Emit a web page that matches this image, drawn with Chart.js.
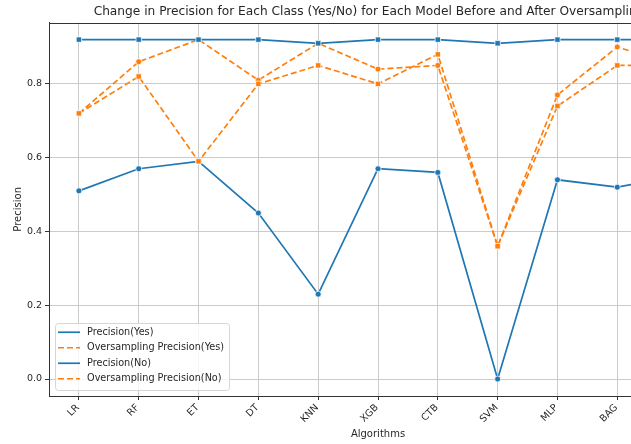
<!DOCTYPE html>
<html>
<head>
<meta charset="utf-8">
<title>Change in Precision</title>
<script src="https://cdn.jsdelivr.net/npm/chart.js@4/dist/chart.umd.min.js"></script>
<style>
  html, body { margin: 0; padding: 0; background: #fff; width: 631px; height: 444px; overflow: hidden; }
  canvas { display: block; }
</style>
</head>
<body>
<canvas id="chart" width="738" height="444"></canvas>
<script>
// Algorithms on the x axis
const categories = ['LR', 'RF', 'ET', 'DT', 'KNN', 'XGB', 'CTB', 'SVM', 'MLP', 'BAG', 'ADA'];

// Precision per class, before and after oversampling
const precisionYes   = [0.51, 0.57, 0.59, 0.45, 0.23, 0.57, 0.56, 0.00, 0.54, 0.52, 0.55];
const osPrecisionYes = [0.72, 0.86, 0.92, 0.81, 0.91, 0.84, 0.85, 0.36, 0.77, 0.90, 0.85];
const precisionNo    = [0.92, 0.92, 0.92, 0.92, 0.91, 0.92, 0.92, 0.91, 0.92, 0.92, 0.92];
const osPrecisionNo  = [0.72, 0.82, 0.59, 0.80, 0.85, 0.80, 0.88, 0.36, 0.74, 0.85, 0.85];

// Y axis ticks and limits
const yTickValues = [0.0, 0.2, 0.4, 0.6, 0.8];
const yMin = -0.046;
const yMax = 0.966;

const BLUE = '#1f77b4';
const ORANGE = '#ff7f0e';
const GRID = '#cbcbcb';
const SPINE = '#333333';
const TEXT = '#262626';
const FAMILY = '"DejaVu Sans", "Liberation Sans", sans-serif';
const DASH = [6, 3];

// Axes frame on all four sides
const frame = {
  id: 'frame',
  afterDatasetsDraw(chart) {
    const { ctx, chartArea: a } = chart;
    ctx.save();
    ctx.strokeStyle = SPINE;
    ctx.lineWidth = 1;
    ctx.strokeRect(Math.round(a.left) + 0.5, Math.round(a.top) + 0.5,
                   Math.round(a.right - a.left), Math.round(a.bottom - a.top));
    ctx.restore();
  }
};

// Legend box in the lower-left corner of the plot area
const legendBox = {
  id: 'legendBox',
  afterDraw(chart) {
    const { ctx, chartArea: a } = chart;
    const items = chart.data.datasets;
    ctx.save();
    ctx.font = '9.7px ' + FAMILY;
    const rowH = 15.5, lineLen = 22, padL = 3, gap = 7, padR = 5;
    let maxW = 0;
    items.forEach(d => { maxW = Math.max(maxW, ctx.measureText(d.label).width); });
    const w = padL + lineLen + gap + maxW + padR;
    const h = rowH * items.length + 5;
    const x = a.left + 6;
    const y = a.bottom - 6 - h;
    ctx.beginPath();
    ctx.roundRect(x + 0.5, y + 0.5, w, h, 3);
    ctx.fillStyle = 'rgba(255,255,255,0.8)';
    ctx.fill();
    ctx.strokeStyle = '#d6d6d6';
    ctx.lineWidth = 1;
    ctx.stroke();
    items.forEach((d, i) => {
      const cy = y + 9.25 + rowH * i;
      ctx.beginPath();
      ctx.setLineDash(d.borderDash || []);
      ctx.strokeStyle = d.borderColor;
      ctx.lineWidth = d.borderWidth;
      ctx.moveTo(x + padL, cy);
      ctx.lineTo(x + padL + lineLen, cy);
      ctx.stroke();
      ctx.setLineDash([]);
      ctx.fillStyle = TEXT;
      ctx.textBaseline = 'middle';
      ctx.textAlign = 'left';
      ctx.fillText(d.label, x + padL + lineLen + gap, cy);
    });
    ctx.restore();
  }
};

function series(label, data, color, dashed, marker, order) {
  return {
    label, data, order,
    borderColor: color,
    backgroundColor: color,
    borderWidth: 1.7,
    borderDash: dashed ? DASH : [],
    pointStyle: marker,
    pointRadius: marker === 'rect' ? 3.8 : 3,
    pointHoverRadius: marker === 'rect' ? 3.8 : 3,
    pointBackgroundColor: color,
    pointBorderColor: '#ffffff',
    pointBorderWidth: 0.75,
    tension: 0,
    fill: false
  };
}

new Chart(document.getElementById('chart'), {
  type: 'line',
  data: {
    labels: categories,
    datasets: [
      series('Precision(Yes)', precisionYes, BLUE, false, 'circle', 4),
      series('Oversampling Precision(Yes)', osPrecisionYes, ORANGE, true, 'circle', 3),
      series('Precision(No)', precisionNo, BLUE, false, 'rect', 2),
      series('Oversampling Precision(No)', osPrecisionNo, ORANGE, true, 'rect', 1)
    ]
  },
  options: {
    responsive: false,
    animation: false,
    devicePixelRatio: 1,
    layout: { padding: 0 },
    events: [],
    plugins: {
      legend: { display: false },
      tooltip: { enabled: false },
      title: {
        display: true,
        text: 'Change in Precision for Each Class (Yes/No) for Each Model Before and After Oversampling',
        color: TEXT,
        font: { family: FAMILY, size: 12.2, weight: 'normal' },
        padding: { top: 5, bottom: 3 }
      }
    },
    scales: {
      x: {
        type: 'category',
        offset: true,
        grid: { color: GRID, lineWidth: 1, drawTicks: true, tickLength: 4, tickColor: SPINE, tickWidth: 1 },
        border: { display: true, color: SPINE, width: 1 },
        ticks: {
          autoSkip: false, minRotation: 45, maxRotation: 45,
          color: TEXT, font: { family: FAMILY, size: 9.7 }, padding: 2, labelOffset: -1
        },
        title: {
          display: true, text: 'Algorithms', color: TEXT,
          font: { family: FAMILY, size: 10 }, padding: { top: 0, bottom: 4 }
        },
        afterFit(scale) { scale.height = 48; }
      },
      y: {
        type: 'linear',
        min: yMin,
        max: yMax,
        afterBuildTicks(scale) { scale.ticks = yTickValues.map(v => ({ value: v })); },
        grid: { color: GRID, lineWidth: 1, drawTicks: true, tickLength: 4, tickColor: SPINE, tickWidth: 1 },
        border: { display: true, color: SPINE, width: 1 },
        ticks: {
          color: TEXT, font: { family: FAMILY, size: 9.5 }, padding: 3,
          callback: v => Number(v).toFixed(1)
        },
        title: {
          display: true, text: 'Precision', color: TEXT,
          font: { family: FAMILY, size: 10 }, padding: { top: 12, bottom: 0 }
        },
        afterFit(scale) { scale.width = 49; }
      },
      yRight: {
        type: 'linear',
        position: 'right',
        display: true,
        grid: { display: false },
        border: { display: false },
        ticks: { display: false },
        afterFit(scale) { scale.width = 31; }
      }
    }
  },
  plugins: [frame, legendBox]
});
</script>
</body>
</html>
